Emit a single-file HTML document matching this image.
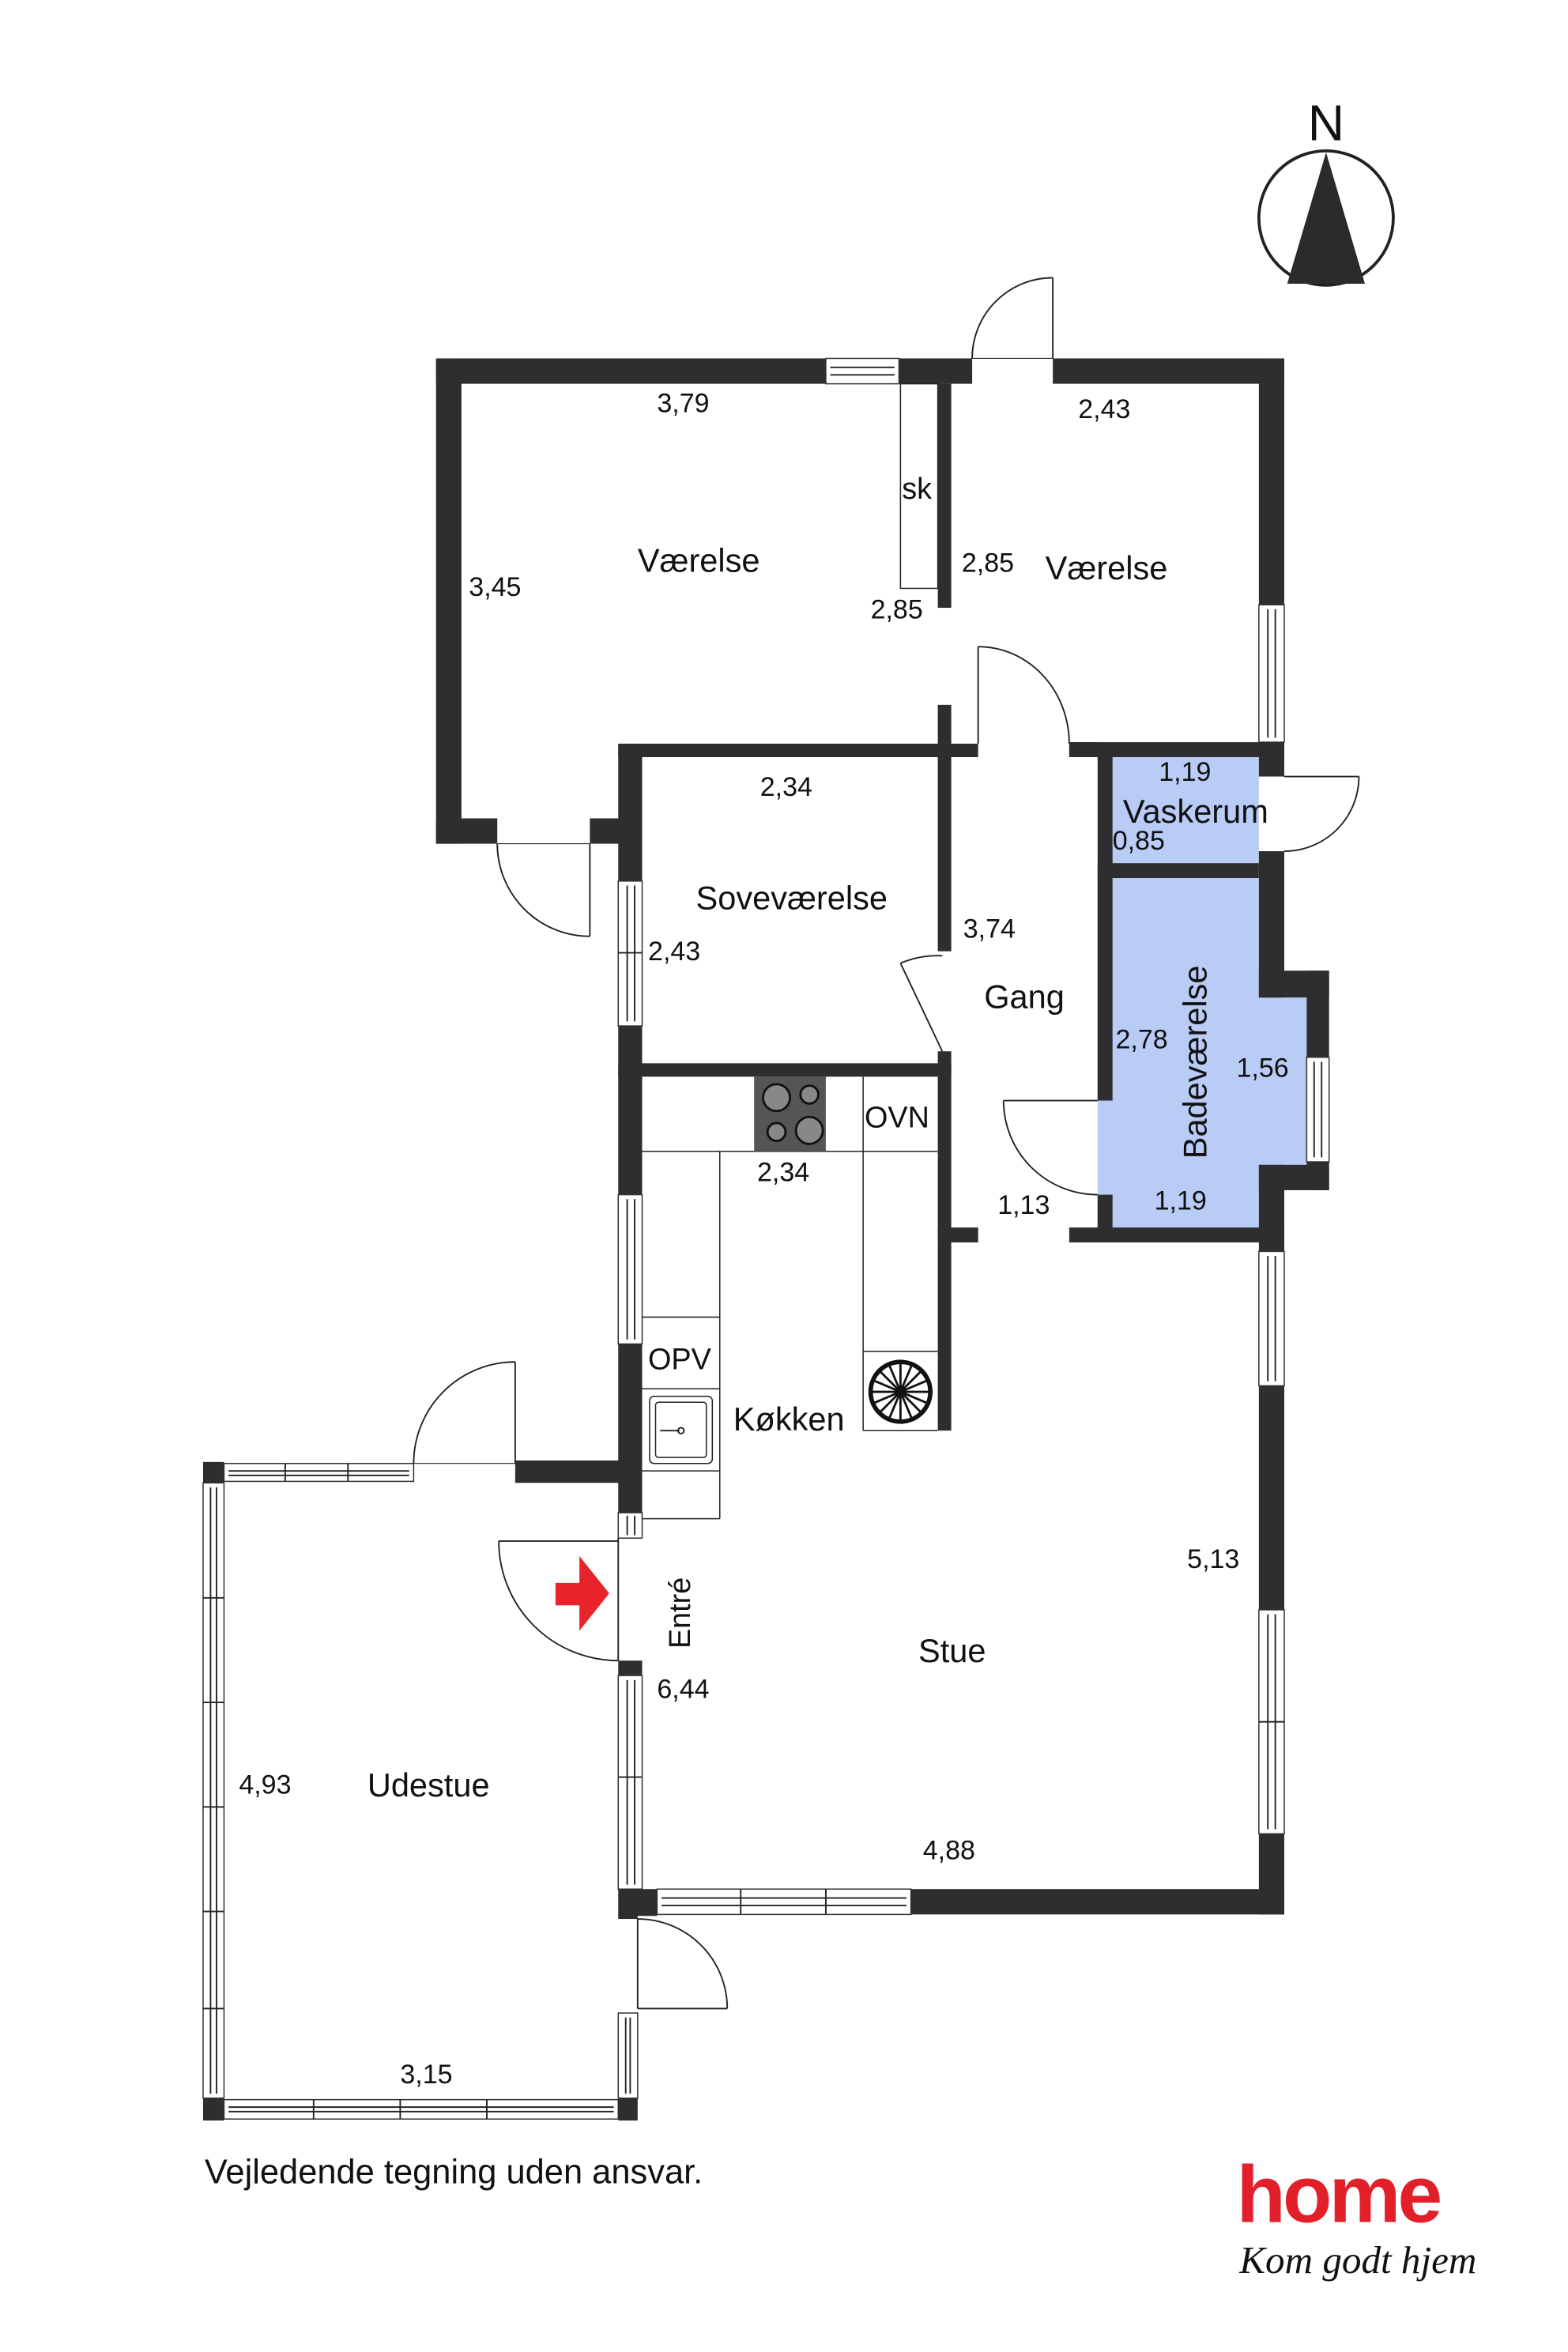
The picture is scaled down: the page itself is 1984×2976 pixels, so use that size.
<!DOCTYPE html>
<html><head><meta charset="utf-8"><style>
html,body{margin:0;padding:0;background:#fff;}
svg{display:block}
text{font-family:"Liberation Sans","DejaVu Sans",sans-serif;fill:#111}
</style></head><body>
<svg width="1984" height="2976" viewBox="0 0 1050 1575" preserveAspectRatio="none" xmlns="http://www.w3.org/2000/svg">
<defs>
<style>.w{fill:#2e2e30}.win{fill:#fff;stroke:#333;stroke-width:0.8}.ln{stroke:#222;stroke-width:1;fill:none}.blue{fill:#b8ccf6}</style>
</defs>
<!-- blue rooms -->
<rect class="blue" x="743" y="507" width="100" height="71"/>
<polygon class="blue" points="735,588 843,588 843,668 875,668 875,780 843,780 843,822 735,822"/>

<!-- Top block walls -->
<rect class="w" x="292" y="240" width="261" height="17"/>
<rect class="win" x="553" y="240" width="49" height="17"/><line class="ln" x1="556" y1="246" x2="599" y2="246"/><line class="ln" x1="556" y1="251" x2="599" y2="251"/>
<rect class="w" x="602" y="240" width="49" height="17"/>
<rect class="w" x="705" y="240" width="155" height="17"/>
<rect class="w" x="292" y="240" width="17" height="325"/>
<rect class="w" x="292" y="548" width="41" height="17"/>
<rect class="w" x="395" y="548" width="35" height="17"/>
<rect class="w" x="628" y="257" width="9" height="150"/>
<rect x="603" y="257" width="25" height="137" fill="none" stroke="#222" stroke-width="0.8"/>
<rect class="w" x="628" y="472" width="9" height="35"/>
<rect class="w" x="414" y="498" width="241" height="9"/>
<rect class="w" x="716" y="497" width="144" height="10"/>
<!-- right wall -->
<rect class="w" x="843" y="240" width="17" height="165"/>
<rect class="win" x="843" y="405" width="17" height="92"/><line class="ln" x1="849" y1="408" x2="849" y2="494"/><line class="ln" x1="854" y1="408" x2="854" y2="494"/>
<rect class="w" x="843" y="497" width="17" height="23"/>
<rect class="w" x="843" y="570" width="17" height="98"/>
<rect class="w" x="843" y="650" width="47" height="18"/>
<rect class="w" x="875" y="650" width="15" height="58"/>
<rect class="win" x="875" y="708" width="15" height="70"/><line class="ln" x1="880" y1="711" x2="880" y2="775"/><line class="ln" x1="885" y1="711" x2="885" y2="775"/>
<rect class="w" x="875" y="778" width="15" height="19"/>
<rect class="w" x="843" y="780" width="47" height="17"/>
<rect class="w" x="843" y="780" width="17" height="58"/>
<rect class="win" x="843" y="838" width="17" height="90"/><line class="ln" x1="849" y1="841" x2="849" y2="925"/><line class="ln" x1="854" y1="841" x2="854" y2="925"/>
<rect class="w" x="843" y="928" width="17" height="150"/>
<rect class="win" x="843" y="1078" width="17" height="150"/><line class="ln" x1="849" y1="1081" x2="849" y2="1225"/><line class="ln" x1="854" y1="1081" x2="854" y2="1225"/><line class="ln" x1="843" y1="1153" x2="860" y2="1153"/>
<rect class="w" x="843" y="1228" width="17" height="54"/>
<!-- bath / vask walls -->
<rect class="w" x="735" y="507" width="10" height="230"/>
<rect class="w" x="716" y="497" width="19" height="10"/>
<rect class="w" x="735" y="578" width="108" height="10"/>
<rect class="w" x="735" y="800" width="10" height="30"/>
<rect class="w" x="716" y="822" width="144" height="10"/>
<rect class="w" x="628" y="822" width="27" height="10"/>
<!-- gang/sove wall -->
<rect class="w" x="628" y="507" width="9" height="130"/>
<rect class="w" x="628" y="704" width="9" height="254"/>
<rect class="w" x="414" y="712" width="223" height="9"/>
<!-- left wall of center block -->
<rect class="w" x="414" y="498" width="16" height="92"/>
<rect class="win" x="414" y="590" width="16" height="97"/><line class="ln" x1="420" y1="593" x2="420" y2="684"/><line class="ln" x1="425" y1="593" x2="425" y2="684"/><line class="ln" x1="414" y1="638" x2="430" y2="638"/>
<rect class="w" x="414" y="687" width="16" height="113"/>
<rect class="win" x="414" y="800" width="16" height="100"/><line class="ln" x1="420" y1="803" x2="420" y2="897"/><line class="ln" x1="425" y1="803" x2="425" y2="897"/>
<rect class="w" x="414" y="900" width="16" height="113"/>
<rect class="w" x="345" y="978" width="85" height="15"/>
<rect class="win" x="414" y="1013" width="16" height="17"/><line class="ln" x1="420" y1="1015" x2="420" y2="1028"/><line class="ln" x1="425" y1="1015" x2="425" y2="1028"/>
<line class="ln" x1="414" y1="1030" x2="414" y2="1112"/>
<rect class="w" x="414" y="1112" width="16" height="10"/>
<rect class="win" x="414" y="1122" width="16" height="143"/><line class="ln" x1="420" y1="1125" x2="420" y2="1262"/><line class="ln" x1="425" y1="1125" x2="425" y2="1262"/><line class="ln" x1="414" y1="1190" x2="430" y2="1190"/>
<!-- bottom of stue -->
<rect class="w" x="414" y="1265" width="26" height="18"/>
<rect class="win" x="440" y="1265" width="170" height="17"/><line class="ln" x1="443" y1="1271" x2="607" y2="1271"/><line class="ln" x1="443" y1="1276" x2="607" y2="1276"/><line class="ln" x1="496" y1="1265" x2="496" y2="1282"/><line class="ln" x1="553" y1="1265" x2="553" y2="1282"/>
<rect class="w" x="610" y="1265" width="250" height="17"/>
<!-- Udestue -->
<rect class="w" x="136" y="979" width="14" height="14"/>
<rect class="win" x="150" y="980" width="127" height="12"/><line class="ln" x1="153" y1="985" x2="274" y2="985"/><line class="ln" x1="153" y1="988" x2="274" y2="988"/><line class="ln" x1="191" y1="980" x2="191" y2="992"/><line class="ln" x1="233" y1="980" x2="233" y2="992"/>
<rect class="win" x="136" y="993" width="14" height="412"/><line class="ln" x1="141" y1="996" x2="141" y2="1402"/><line class="ln" x1="145" y1="996" x2="145" y2="1402"/>
<line class="ln" x1="136" y1="1070" x2="150" y2="1070"/><line class="ln" x1="136" y1="1140" x2="150" y2="1140"/><line class="ln" x1="136" y1="1210" x2="150" y2="1210"/><line class="ln" x1="136" y1="1280" x2="150" y2="1280"/><line class="ln" x1="136" y1="1345" x2="150" y2="1345"/>
<rect class="w" x="136" y="1405" width="14" height="15"/>
<rect class="win" x="150" y="1406" width="264" height="13"/><line class="ln" x1="153" y1="1411" x2="411" y2="1411"/><line class="ln" x1="153" y1="1414" x2="411" y2="1414"/><line class="ln" x1="210" y1="1406" x2="210" y2="1419"/><line class="ln" x1="268" y1="1406" x2="268" y2="1419"/><line class="ln" x1="326" y1="1406" x2="326" y2="1419"/>
<rect class="w" x="414" y="1405" width="13" height="15"/>
<rect class="win" x="414" y="1348" width="13" height="57"/><line class="ln" x1="419" y1="1351" x2="419" y2="1402"/><line class="ln" x1="422" y1="1351" x2="422" y2="1402"/>
<rect class="w" x="414" y="1282" width="13" height="3"/>
<!-- doors -->
<g class="ln">
<line x1="705" y1="186" x2="705" y2="240"/><path d="M651,240 A54,54 0 0 1 705,186"/><line x1="651" y1="240" x2="705" y2="240" stroke-width="0.6"/>
<line x1="395" y1="565" x2="395" y2="627"/><path d="M333,565 A62,62 0 0 0 395,627"/><line x1="333" y1="565" x2="395" y2="565" stroke-width="0.6"/>
<line x1="655" y1="433" x2="655" y2="498"/><path d="M655,433 A61,65 0 0 1 716,498"/>
<line x1="860" y1="520" x2="910" y2="520"/><path d="M910,520 A50,50 0 0 1 860,570"/>
<line x1="631" y1="704" x2="603" y2="645"/><path d="M603,645 A64,64 0 0 1 631,640"/>
<line x1="672" y1="737" x2="735" y2="737"/><path d="M672,737 A63,63 0 0 0 735,800"/>
<line x1="345" y1="912" x2="345" y2="980"/><path d="M277,980 A68,68 0 0 1 345,912"/><line x1="277" y1="980" x2="345" y2="980" stroke-width="0.6"/>
<line x1="334" y1="1032" x2="414" y2="1032"/><path d="M334,1032 A80,80 0 0 0 414,1112"/>
<line x1="427" y1="1345" x2="487" y2="1345"/><path d="M427,1285 A60,60 0 0 1 487,1345"/><line x1="427" y1="1285" x2="427" y2="1345"/>
</g>
<!-- kitchen -->
<g fill="none" stroke="#222" stroke-width="0.8">
<line x1="430" y1="771" x2="628" y2="771"/>
<line x1="578" y1="721" x2="578" y2="958"/>
<line x1="578" y1="958" x2="628" y2="958"/>
<line x1="578" y1="905" x2="628" y2="905"/>
<line x1="482" y1="771" x2="482" y2="1017"/>
<line x1="430" y1="1017" x2="482" y2="1017"/>
<line x1="430" y1="882" x2="482" y2="882"/>
<line x1="430" y1="930" x2="482" y2="930"/>
<line x1="430" y1="985" x2="482" y2="985"/>
<rect x="435" y="935" width="42" height="45" rx="3"/><rect x="439" y="939" width="34" height="37" rx="2"/>
</g>
<line x1="442" y1="958" x2="455" y2="958" stroke="#222" stroke-width="1"/><circle cx="456" cy="958" r="2" fill="none" stroke="#222"/>
<rect x="505" y="721" width="48" height="50" fill="#555"/>
<g fill="#888" stroke="#111" stroke-width="1.5">
<circle cx="520" cy="735" r="9"/><circle cx="542" cy="733" r="6"/><circle cx="520" cy="758" r="6"/><circle cx="542" cy="757" r="9"/>
</g>
<circle cx="603" cy="932" r="20" fill="none" stroke="#111" stroke-width="3"/>
<g stroke="#111" stroke-width="1.5">
<line x1="583" y1="932" x2="623" y2="932"/><line x1="603" y1="912" x2="603" y2="952"/><line x1="589" y1="918" x2="617" y2="946"/><line x1="617" y1="918" x2="589" y2="946"/>
<line x1="595" y1="913" x2="611" y2="951"/><line x1="611" y1="913" x2="595" y2="951"/><line x1="584" y1="924" x2="622" y2="940"/><line x1="584" y1="940" x2="622" y2="924"/>
</g>
<!-- red arrow -->
<polygon points="372,1060 388,1060 388,1042 408,1067 388,1092 388,1075 372,1075" fill="#e8232b"/>
<!-- compass -->
<circle cx="888" cy="146" r="45" fill="none" stroke="#222" stroke-width="2"/>
<polygon points="888,102 862,190 914,190" fill="#2b2b2b"/>
<text x="888" y="94" font-size="34" text-anchor="middle">N</text>
<!-- labels -->
<g font-size="18">
<text x="440" y="276">3,79</text>
<text x="722" y="280">2,43</text>
<text x="314" y="399">3,45</text>
<text x="583" y="414">2,85</text>
<text x="644" y="383">2,85</text>
<text x="509" y="533">2,34</text>
<text x="776" y="523">1,19</text>
<text x="745" y="569">0,85</text>
<text x="434" y="643">2,43</text>
<text x="645" y="628">3,74</text>
<text x="747" y="702">2,78</text>
<text x="828" y="721">1,56</text>
<text x="773" y="810">1,19</text>
<text x="507" y="791">2,34</text>
<text x="668" y="813">1,13</text>
<text x="795" y="1050">5,13</text>
<text x="440" y="1137">6,44</text>
<text x="160" y="1201">4,93</text>
<text x="618" y="1245">4,88</text>
<text x="268" y="1395">3,15</text>
</g>
<g font-size="22">
<text x="604" y="334" font-size="20">sk</text>
<text x="427" y="383">Værelse</text>
<text x="700" y="388">Værelse</text>
<text x="752" y="551">Vaskerum</text>
<text x="466" y="609">Soveværelse</text>
<text x="659" y="675">Gang</text>
<text x="579" y="755" font-size="20">OVN</text>
<text x="434" y="917" font-size="20">OPV</text>
<text x="491" y="958">Køkken</text>
<text x="615" y="1113">Stue</text>
<text x="246" y="1203">Udestue</text>
<text transform="translate(808,776) rotate(-90)">Badeværelse</text>
<text transform="translate(462,1104) rotate(-90)" font-size="20">Entré</text>
</g>
<text x="137" y="1462" font-size="23">Vejledende tegning uden ansvar.</text>
<text x="828" y="1488" font-size="54" font-weight="bold" fill="#e2202a" style="fill:#e2202a;letter-spacing:-2px">home</text>
<text x="830" y="1522" font-size="26" font-style="italic" font-family="Liberation Serif, serif" style="font-family:'Liberation Serif',serif">Kom godt hjem</text>
</svg>
</body></html>
